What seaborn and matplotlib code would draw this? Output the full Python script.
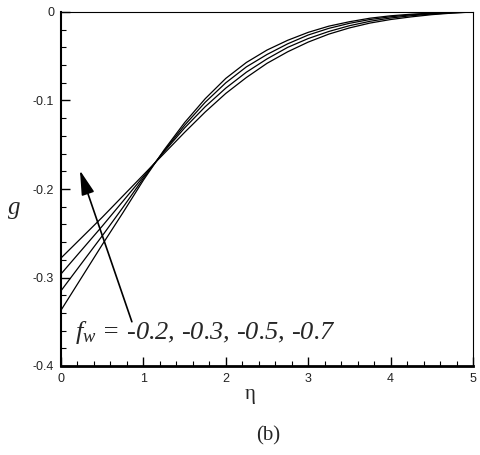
import numpy as np
import pandas as pd
import matplotlib
matplotlib.use("Agg")
import matplotlib.pyplot as plt
from matplotlib.ticker import MultipleLocator
import seaborn as sns

eta = [0.0, 0.25, 0.5, 0.75, 1.0, 1.25, 1.5, 1.75, 2.0, 2.25, 2.5, 2.75,
       3.0, 3.25, 3.5, 3.75, 4.0, 4.25, 4.5, 4.75, 5.0]

g_a = [-0.278, -0.255, -0.232, -0.208, -0.184, -0.160, -0.136, -0.113, -0.092,
       -0.074, -0.058, -0.045, -0.034, -0.025, -0.018, -0.0125, -0.0085, -0.0055,
       -0.003, -0.0012, 0.0]
g_b = [-0.296, -0.269, -0.242, -0.214, -0.186, -0.158, -0.131, -0.107, -0.086,
       -0.068, -0.053, -0.040, -0.030, -0.022, -0.0155, -0.0105, -0.0068, -0.0042,
       -0.0023, -0.0009, 0.0]
g_c = [-0.315, -0.284, -0.253, -0.221, -0.188, -0.157, -0.128, -0.102, -0.080,
       -0.062, -0.048, -0.036, -0.026, -0.0185, -0.0128, -0.0085, -0.0054, -0.0032,
       -0.0017, -0.0006, 0.0]
g_d = [-0.337, -0.300, -0.263, -0.227, -0.190, -0.156, -0.125, -0.098, -0.075,
       -0.057, -0.043, -0.032, -0.023, -0.016, -0.011, -0.007, -0.0043, -0.0025,
       -0.0012, -0.0004, 0.0]

series_names = ["a", "b", "c", "d"]
annotation = "$f_w$ = -0.2, -0.3, -0.5, -0.7"

frames = []
for name, vals in zip(series_names, [g_a, g_b, g_c, g_d]):
    frames.append(pd.DataFrame({"eta": eta, "g": vals, "s": name}))
df = pd.concat(frames, ignore_index=True)

sns.set_style("ticks")
plt.rcParams['font.family'] = ['Liberation Sans', 'DejaVu Sans']
plt.rcParams['mathtext.fontset'] = 'custom'
plt.rcParams['mathtext.it'] = 'Liberation Serif:italic'
plt.rcParams['mathtext.rm'] = 'Liberation Serif'

fig = plt.figure(figsize=(4.8, 4.55), dpi=100)
ax = fig.add_axes([61/480, 1-366/455, (473-61)/480, (366-12)/455])

sns.lineplot(data=df, x="eta", y="g", hue="s", palette=["black"]*4,
             linewidth=0.9, legend=False, ax=ax, sort=False)

ax.set_xlim(0, 5)
ax.set_ylim(-0.4, 0)
ax.xaxis.set_major_locator(MultipleLocator(1))
ax.xaxis.set_minor_locator(MultipleLocator(0.2))
ax.yaxis.set_major_locator(MultipleLocator(0.1))
ax.yaxis.set_minor_locator(MultipleLocator(0.02))
ax.yaxis.set_major_formatter(matplotlib.ticker.FuncFormatter(
    lambda v, p: "0" if abs(v) < 1e-9 else f"{v:.1f}"))
ax.tick_params(which="both", direction="in", colors="black", labelsize=9,
               top=False, right=False)
ax.tick_params(which="major", length=6.5, width=1.0, pad=5)
ax.tick_params(which="minor", length=3.6, width=0.8)
for lab in ax.get_xticklabels() + ax.get_yticklabels():
    lab.set_color("#222222")

for side, lw in [("left", 1.5), ("bottom", 2.0), ("top", 0.8), ("right", 0.8)]:
    ax.spines[side].set_visible(True)
    ax.spines[side].set_linewidth(lw)
    ax.spines[side].set_color("black")

ax.set_xlabel("")
ax.set_ylabel("")
fig.text(250/480, 1-395/455, "η", fontsize=15, family="Liberation Serif",
         ha="center", va="center")
fig.text(14/480, 1-208/455, "g", fontsize=18, family="Liberation Serif",
         style="italic", ha="center", va="center")
fig.text(268/480, 1-436/455, "(b)", fontsize=15, family="Liberation Serif",
         ha="center", va="center")

ax.annotate("", xy=(0.23, -0.179), xytext=(0.86, -0.350),
            arrowprops=dict(arrowstyle="-|>,head_length=1.5,head_width=0.4",
                            color="black", lw=1.2, shrinkA=0, shrinkB=0))
ax.text(0.17, -0.362, annotation, fontsize=19, family="Liberation Serif",
        style="italic", ha="left", va="center")

fig.savefig("out.png", dpi=100)
